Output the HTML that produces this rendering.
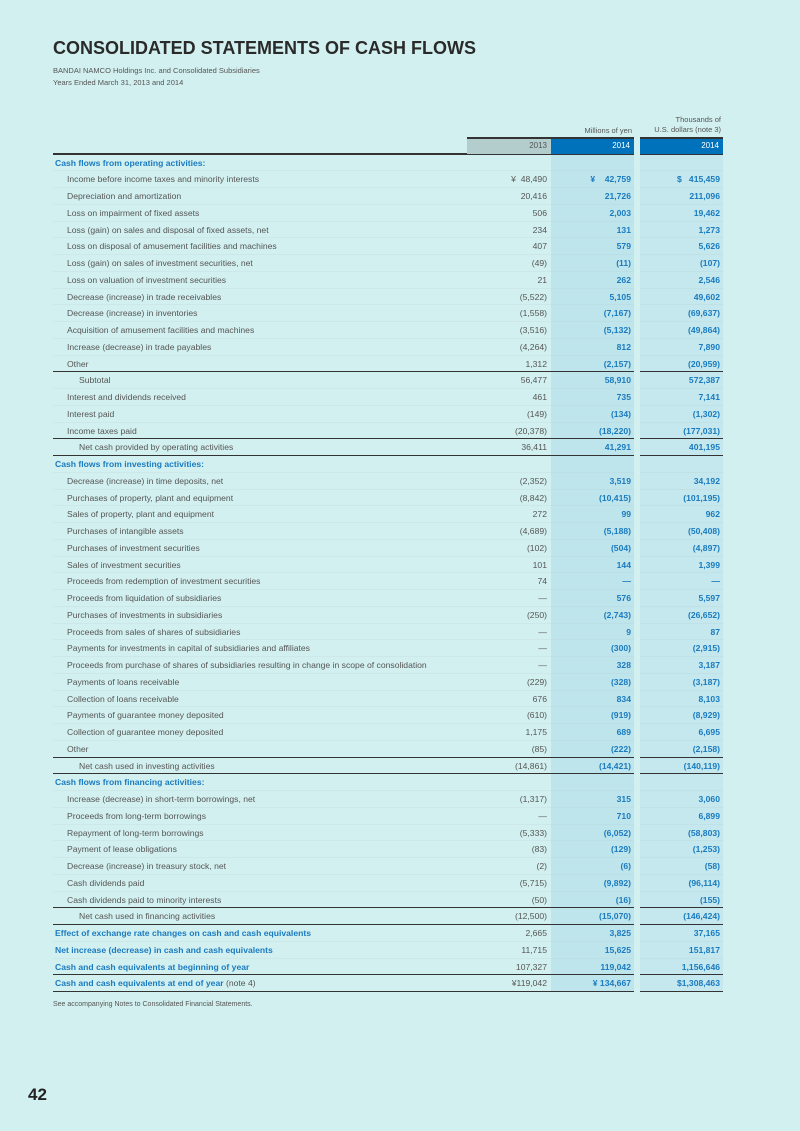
<!DOCTYPE html>
<html><head><meta charset="utf-8"><style>
*{margin:0;padding:0;box-sizing:border-box}
body{width:800px;height:1131px;background:#d3f0f0;font-family:"Liberation Sans",sans-serif;color:#555;position:relative;overflow:hidden}
h1{position:absolute;left:53px;top:38px;font-size:18px;font-weight:bold;color:#2a2a2a;letter-spacing:0}
.sub{position:absolute;left:53px;font-size:7.5px;color:#555}
.band{position:absolute;top:154px;height:838px;background:#bfe5ec}
.hd{position:absolute;top:138px;height:16px;font-size:8px;text-align:right;padding-right:4px;line-height:16px}
.unit{position:absolute;font-size:7.5px;text-align:right;color:#555;line-height:10px}
#rows{position:absolute;left:53px;top:154.5px;width:670px}
.r{height:16.76px;position:relative;font-size:8.6px;line-height:16.76px;border-bottom:1px solid rgba(180,200,200,0.18)}
.r span{position:absolute;top:0;white-space:nowrap}
.l{left:14px}.l2{left:26px}.l0{left:2px}
.a{right:176px}.b{right:92px;color:#1a7bbf;font-weight:bold}.c{right:3px;color:#1a7bbf;font-weight:bold}
.h span.l0{color:#1a7bbf;font-weight:bold}
.bt{border-bottom:1.5px solid #333}
</style></head><body>
<h1>CONSOLIDATED STATEMENTS OF CASH FLOWS</h1>
<div class="sub" style="top:66px">BANDAI NAMCO Holdings Inc. and Consolidated Subsidiaries</div>
<div class="sub" style="top:78px">Years Ended March 31, 2013 and 2014</div>
<div class="band" style="left:551px;width:83px"></div>
<div class="band" style="left:640px;width:83px;background:#c4e8ee"></div>
<div class="unit" style="left:540px;width:92px;top:126px">Millions of yen</div>
<div class="unit" style="left:620px;width:101px;top:115px">Thousands of<br>U.S. dollars (note 3)</div>
<div style="position:absolute;left:53px;top:153px;width:670px;height:1.5px;background:#333"></div>
<div class="hd" style="left:467px;width:84px;background:#b3cccc;color:#555">2013</div>
<div class="hd" style="left:551px;width:83px;background:#0072bb;color:#fff">2014</div>
<div class="hd" style="left:640px;width:83px;background:#0072bb;color:#fff">2014</div>
<div style="position:absolute;left:467px;top:137px;width:256px;height:1.5px;background:#333"></div>
<div style="position:absolute;left:634px;top:137px;width:6px;height:17px;background:#d3f0f0"></div>
<div id="rows">
<div class="r h"><span class="l0">Cash flows from operating activities:</span></div>
<div class="r"><span class="l">Income before income taxes and minority interests</span><span class="a">¥&nbsp; 48,490</span><span class="b">¥&nbsp;&nbsp;&nbsp; 42,759</span><span class="c">$&nbsp;&nbsp; 415,459</span></div>
<div class="r"><span class="l">Depreciation and amortization</span><span class="a">20,416</span><span class="b">21,726</span><span class="c">211,096</span></div>
<div class="r"><span class="l">Loss on impairment of fixed assets</span><span class="a">506</span><span class="b">2,003</span><span class="c">19,462</span></div>
<div class="r"><span class="l">Loss (gain) on sales and disposal of fixed assets, net</span><span class="a">234</span><span class="b">131</span><span class="c">1,273</span></div>
<div class="r"><span class="l">Loss on disposal of amusement facilities and machines</span><span class="a">407</span><span class="b">579</span><span class="c">5,626</span></div>
<div class="r"><span class="l">Loss (gain) on sales of investment securities, net</span><span class="a">(49)</span><span class="b">(11)</span><span class="c">(107)</span></div>
<div class="r"><span class="l">Loss on valuation of investment securities</span><span class="a">21</span><span class="b">262</span><span class="c">2,546</span></div>
<div class="r"><span class="l">Decrease (increase) in trade receivables</span><span class="a">(5,522)</span><span class="b">5,105</span><span class="c">49,602</span></div>
<div class="r"><span class="l">Decrease (increase) in inventories</span><span class="a">(1,558)</span><span class="b">(7,167)</span><span class="c">(69,637)</span></div>
<div class="r"><span class="l">Acquisition of amusement facilities and machines</span><span class="a">(3,516)</span><span class="b">(5,132)</span><span class="c">(49,864)</span></div>
<div class="r"><span class="l">Increase (decrease) in trade payables</span><span class="a">(4,264)</span><span class="b">812</span><span class="c">7,890</span></div>
<div class="r bt"><span class="l">Other</span><span class="a">1,312</span><span class="b">(2,157)</span><span class="c">(20,959)</span></div>
<div class="r"><span class="l2">Subtotal</span><span class="a">56,477</span><span class="b">58,910</span><span class="c">572,387</span></div>
<div class="r"><span class="l">Interest and dividends received</span><span class="a">461</span><span class="b">735</span><span class="c">7,141</span></div>
<div class="r"><span class="l">Interest paid</span><span class="a">(149)</span><span class="b">(134)</span><span class="c">(1,302)</span></div>
<div class="r bt"><span class="l">Income taxes paid</span><span class="a">(20,378)</span><span class="b">(18,220)</span><span class="c">(177,031)</span></div>
<div class="r bt"><span class="l2">Net cash provided by operating activities</span><span class="a">36,411</span><span class="b">41,291</span><span class="c">401,195</span></div>
<div class="r h"><span class="l0">Cash flows from investing activities:</span></div>
<div class="r"><span class="l">Decrease (increase) in time deposits, net</span><span class="a">(2,352)</span><span class="b">3,519</span><span class="c">34,192</span></div>
<div class="r"><span class="l">Purchases of property, plant and equipment</span><span class="a">(8,842)</span><span class="b">(10,415)</span><span class="c">(101,195)</span></div>
<div class="r"><span class="l">Sales of property, plant and equipment</span><span class="a">272</span><span class="b">99</span><span class="c">962</span></div>
<div class="r"><span class="l">Purchases of intangible assets</span><span class="a">(4,689)</span><span class="b">(5,188)</span><span class="c">(50,408)</span></div>
<div class="r"><span class="l">Purchases of investment securities</span><span class="a">(102)</span><span class="b">(504)</span><span class="c">(4,897)</span></div>
<div class="r"><span class="l">Sales of investment securities</span><span class="a">101</span><span class="b">144</span><span class="c">1,399</span></div>
<div class="r"><span class="l">Proceeds from redemption of investment securities</span><span class="a">74</span><span class="b">—</span><span class="c">—</span></div>
<div class="r"><span class="l">Proceeds from liquidation of subsidiaries</span><span class="a">—</span><span class="b">576</span><span class="c">5,597</span></div>
<div class="r"><span class="l">Purchases of investments in subsidiaries</span><span class="a">(250)</span><span class="b">(2,743)</span><span class="c">(26,652)</span></div>
<div class="r"><span class="l">Proceeds from sales of shares of subsidiaries</span><span class="a">—</span><span class="b">9</span><span class="c">87</span></div>
<div class="r"><span class="l">Payments for investments in capital of subsidiaries and affiliates</span><span class="a">—</span><span class="b">(300)</span><span class="c">(2,915)</span></div>
<div class="r"><span class="l">Proceeds from purchase of shares of subsidiaries resulting in change in scope of consolidation</span><span class="a">—</span><span class="b">328</span><span class="c">3,187</span></div>
<div class="r"><span class="l">Payments of loans receivable</span><span class="a">(229)</span><span class="b">(328)</span><span class="c">(3,187)</span></div>
<div class="r"><span class="l">Collection of loans receivable</span><span class="a">676</span><span class="b">834</span><span class="c">8,103</span></div>
<div class="r"><span class="l">Payments of guarantee money deposited</span><span class="a">(610)</span><span class="b">(919)</span><span class="c">(8,929)</span></div>
<div class="r"><span class="l">Collection of guarantee money deposited</span><span class="a">1,175</span><span class="b">689</span><span class="c">6,695</span></div>
<div class="r bt"><span class="l">Other</span><span class="a">(85)</span><span class="b">(222)</span><span class="c">(2,158)</span></div>
<div class="r bt"><span class="l2">Net cash used in investing activities</span><span class="a">(14,861)</span><span class="b">(14,421)</span><span class="c">(140,119)</span></div>
<div class="r h"><span class="l0">Cash flows from financing activities:</span></div>
<div class="r"><span class="l">Increase (decrease) in short-term borrowings, net</span><span class="a">(1,317)</span><span class="b">315</span><span class="c">3,060</span></div>
<div class="r"><span class="l">Proceeds from long-term borrowings</span><span class="a">—</span><span class="b">710</span><span class="c">6,899</span></div>
<div class="r"><span class="l">Repayment of long-term borrowings</span><span class="a">(5,333)</span><span class="b">(6,052)</span><span class="c">(58,803)</span></div>
<div class="r"><span class="l">Payment of lease obligations</span><span class="a">(83)</span><span class="b">(129)</span><span class="c">(1,253)</span></div>
<div class="r"><span class="l">Decrease (increase) in treasury stock, net</span><span class="a">(2)</span><span class="b">(6)</span><span class="c">(58)</span></div>
<div class="r"><span class="l">Cash dividends paid</span><span class="a">(5,715)</span><span class="b">(9,892)</span><span class="c">(96,114)</span></div>
<div class="r bt"><span class="l">Cash dividends paid to minority interests</span><span class="a">(50)</span><span class="b">(16)</span><span class="c">(155)</span></div>
<div class="r bt"><span class="l2">Net cash used in financing activities</span><span class="a">(12,500)</span><span class="b">(15,070)</span><span class="c">(146,424)</span></div>
<div class="r h"><span class="l0">Effect of exchange rate changes on cash and cash equivalents</span><span class="a">2,665</span><span class="b">3,825</span><span class="c">37,165</span></div>
<div class="r h"><span class="l0">Net increase (decrease) in cash and cash equivalents</span><span class="a">11,715</span><span class="b">15,625</span><span class="c">151,817</span></div>
<div class="r h bt"><span class="l0">Cash and cash equivalents at beginning of year</span><span class="a">107,327</span><span class="b">119,042</span><span class="c">1,156,646</span></div>
<div class="r h bt"><span class="l0">Cash and cash equivalents at end of year <span style="position:static;color:#555;font-weight:normal">(note 4)</span></span><span class="a">¥119,042</span><span class="b">¥ 134,667</span><span class="c">$1,308,463</span></div>
</div>
<div style="position:absolute;left:634px;top:154px;width:6px;height:840px;background:#d3f0f0"></div>
<div class="sub" style="top:1001px;font-size:7px">See accompanying Notes to Consolidated Financial Statements.</div>
<div style="position:absolute;left:28px;top:1085px;font-size:17px;font-weight:bold;color:#222">42</div>
</body></html>
